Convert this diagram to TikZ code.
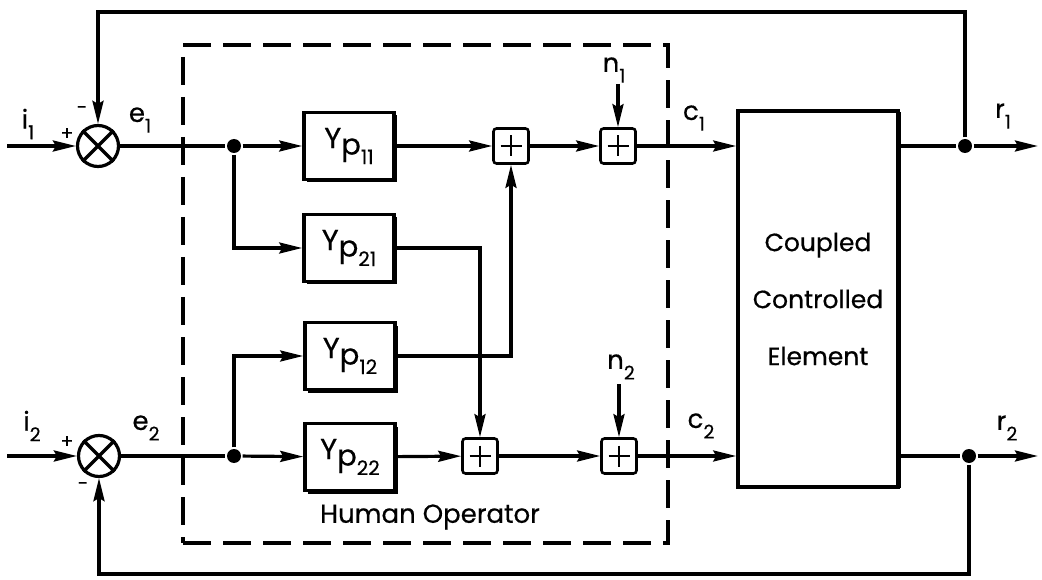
\documentclass[tikz,border=0pt]{standalone}
\usepackage{fontspec}
\setmainfont{Poppins}[FakeBold=0.5]
\usetikzlibrary{arrows.meta,shadows}

\newcommand{\yp}[1]{Y\raisebox{-0.4ex}{p}\raisebox{-1.0ex}{\fontsize{20}{20}\selectfont #1}}
\newcommand{\sig}[2]{#1\raisebox{-0.75ex}{\fontsize{19}{19}\selectfont #2}}

\begin{document}
\begin{tikzpicture}[x=1pt, y=-1pt, line width=3.2pt,
  >={Stealth[length=23pt,width=11pt,inset=3pt]},
  font=\fontsize{26}{30}\selectfont,
  block/.style={rectangle, draw, line width=3.5pt, fill=white,
    minimum width=90pt, minimum height=67pt, font=\fontsize{29}{30}\selectfont,
    drop shadow={shadow xshift=3pt, shadow yshift=-3pt, fill=black, opacity=1}},
  summer/.style={circle, draw, minimum size=41pt, inner sep=0pt},
  adder/.style={rectangle, draw, rounded corners=3pt, fill=white,
    minimum size=35pt, inner sep=0pt, line width=2.6pt,
    path picture={\draw[line width=2.6pt]
      ([yshift=-7pt]path picture bounding box.north) -- ([yshift=7pt]path picture bounding box.south)
      ([xshift=7pt]path picture bounding box.west) -- ([xshift=-7pt]path picture bounding box.east);}},
  dot/.style={circle, fill, inner sep=0pt, minimum size=14pt},
  sgn/.style={font=\fontsize{19}{19}\selectfont}]
  \useasboundingbox (0,0) rectangle (1042,580);

  % human operator frame
  \node (human) [draw, dash pattern=on 28pt off 12pt, minimum width=485pt, minimum height=498pt] at (425.5,294) {};
  \node (hlabel) at (430,517) {Human Operator};

  % summing points
  \node (s1) [summer] at (98,146) {};
  \node (s2) [summer] at (99,456) {};
  \draw (s1.north east) -- (s1.south west) (s1.north west) -- (s1.south east);
  \draw (s2.north east) -- (s2.south west) (s2.north west) -- (s2.south east);

  \node (j1) [dot] at (234,146) {};
  \node (j2) [dot] at (234,456) {};

  % operator blocks
  \node (y11) [block] at (349,146) {\yp{11}};
  \node (y21) [block] at (349,248) {\yp{21}};
  \node (y12) [block] at (350,356) {\yp{12}};
  \node (y22) [block] at (350,457) {\yp{22}};

  \node (a1) [adder] at (511,146) {};
  \node (a2) [adder] at (618,146) {};
  \node (a3) [adder] at (480,456) {};
  \node (a4) [adder] at (619,456) {};

  \node (plant) [draw, line width=3.5pt, fill=white, minimum width=160pt, minimum height=376pt,
    align=center, font=\fontsize{25}{57}\selectfont,
    drop shadow={shadow xshift=3pt, shadow yshift=-1pt, fill=black, opacity=1}] at (818,299) {Coupled\\Controlled\\Element};

  \node (o1) [dot] at (965,146) {};
  \node (o2) [dot] at (969,456) {};

  \coordinate (i1) at (7,146);
  \coordinate (i2) at (7,456);
  \coordinate (r1) at (1038,146);
  \coordinate (r2) at (1038,456);
  \coordinate (n1) at (618,84);
  \coordinate (n2) at (619,384);
  \coordinate (top) at (0,12);
  \coordinate (bot) at (0,574);

  % signal labels
  \node (li1) at (28,124) {\sig{i}{1}};
  \node (li2) at (32,426) {\sig{i}{2}};
  \node (le1) at (140,120) {\sig{e}{1}};
  \node (le2) at (146,428) {\sig{e}{2}};
  \node (ln1) at (614,70) {\sig{n}{1}};
  \node (ln2) at (621,367) {\sig{n}{2}};
  \node (lc1) at (694,118) {\sig{c}{1}};
  \node (lc2) at (701,426) {\sig{c}{2}};
  \node (lr1) at (1003,116) {\sig{r}{1}};
  \node (lr2) at (1007,428) {\sig{r}{2}};
  \node (p1) [sgn] at (67,134) {+};
  \node (m1) [sgn] at (82,110) {-};
  \node (p2) [sgn] at (67,442) {+};
  \node (m2) [sgn] at (83,486) {-};

  % upper channel
  \draw[->] (i1) -- (s1);
  \draw (s1) -- (j1);
  \draw[->] (j1) -- (y11);
  \draw[->] (j1) |- (y21);
  \draw[->] (y11) -- (a1);
  \draw[->] (a1) -- (a2);
  \draw[->] (n1) -- (a2);
  \draw[->] (a2) -- (plant.west |- a2);
  \draw[->] (y21) -| (a3);

  % lower channel
  \draw[->] (i2) -- (s2);
  \draw (s2) -- (j2);
  \draw[->] (j2) -- (y22);
  \draw[->] (j2) |- (y12);
  \draw[->] (y12) -| (a1);
  \draw[->] (y22) -- (a3);
  \draw[->] (a3) -- (a4);
  \draw[->] (n2) -- (a4);
  \draw[->] (a4) -- (plant.west |- a4);

  % outputs and feedback
  \draw (plant.east |- o1) -- (o1);
  \draw[->] (o1) -- (r1);
  \draw (plant.east |- o2) -- (o2);
  \draw[->] (o2) -- (r2);
  \draw[->] (o1) -- (o1 |- top) -| (s1);
  \draw[->] (o2) -- (o2 |- bot) -| (s2);
\end{tikzpicture}
\end{document}
